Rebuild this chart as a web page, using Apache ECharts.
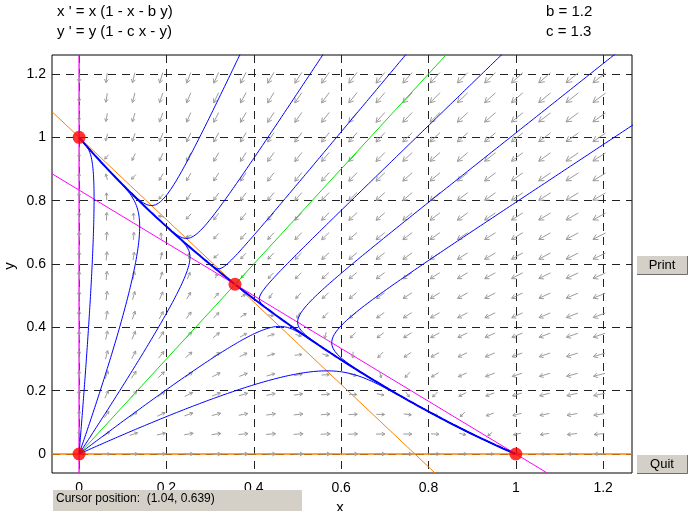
<!DOCTYPE html>
<html><head><meta charset="utf-8">
<script src="https://cdn.jsdelivr.net/npm/echarts@6/dist/echarts.min.js"></script>
<style>html,body{margin:0;padding:0;background:#fff}#c{width:688px;height:511px}</style>
</head><body><div id="c"></div>
<script>
// ---- data ----
const B_PARAM = 1.2;
const C_PARAM = 1.3;
const X_TICKS = [0, 0.2, 0.4, 0.6, 0.8, 1, 1.2];
const Y_TICKS = [0, 0.2, 0.4, 0.6, 0.8, 1, 1.2];
const ARROW_X = [0, 0.063, 0.125, 0.188, 0.251, 0.314, 0.376, 0.439, 0.502, 0.564, 0.627, 0.690, 0.752, 0.815, 0.878, 0.941, 1.003, 1.066, 1.129, 1.191];
const ARROW_Y = [0, 0.063, 0.125, 0.188, 0.25, 0.313, 0.375, 0.438, 0.5, 0.563, 0.625, 0.688, 0.75, 0.813, 0.875, 0.938, 1.0, 1.063, 1.125, 1.188];
const EQUILIBRIA = [[0, 0], [0, 1], [1, 0], [0.357, 0.536]];
const ORIGIN_FAN_STARTS = [[0.03, 0.6], [0.11, 0.487], [0.217, 0.487], [0.461, 0.403], [0.392, 0.215]];
const UPPER_STARTS = [[0.347, 1.2], [0.529, 1.2], [0.711, 1.2], [0.922, 1.2], [1.17, 1.2], [1.2, 0.977]];
const SADDLE_EXITS = [[0.355, 0.5375], [0.359, 0.534]];
const SEPARATRIX = [[0, 0], [0.84, 1.26]];
const NULL_X_DIAG = [[-0.062, 0.885], [1.072, -0.06]];
const NULL_X_AXIS = [[0, -0.06], [0, 1.26]];
const NULL_Y_DIAG = [[-0.062, 1.081], [0.815, -0.06]];
const NULL_Y_AXIS = [[-0.062, 0], [1.266, 0]];

// ---- system shown on the chart: x' = x(1-x-by), y' = y(1-cx-y) ----
function field(x, y) { return [x * (1 - x - B_PARAM * y), y * (1 - C_PARAM * x - y)]; }
function rk4(p, h) {
  const k1 = field(p[0], p[1]);
  const k2 = field(p[0] + h / 2 * k1[0], p[1] + h / 2 * k1[1]);
  const k3 = field(p[0] + h / 2 * k2[0], p[1] + h / 2 * k2[1]);
  const k4 = field(p[0] + h * k3[0], p[1] + h * k3[1]);
  return [p[0] + h / 6 * (k1[0] + 2 * k2[0] + 2 * k3[0] + k4[0]),
          p[1] + h / 6 * (k1[1] + 2 * k2[1] + 2 * k3[1] + k4[1])];
}
function integrate(p0, dir) {
  const pts = []; let p = p0.slice();
  for (let i = 0; i < 8000; i++) {
    const v = field(p[0], p[1]); const sp = Math.hypot(v[0], v[1]);
    if (sp < 2e-5) break;
    const h = dir * Math.min(0.05, 0.003 / sp);
    p = rk4(p, h); pts.push(p);
    if (p[0] < -0.2 || p[0] > 1.45 || p[1] < -0.2 || p[1] > 1.45) break;
  }
  return pts;
}
function orbit(p0) { return integrate(p0, -1).reverse().concat([p0], integrate(p0, 1)); }

const arrowPts = [];
ARROW_X.forEach(x => ARROW_Y.forEach(y => arrowPts.push([x, y])));

function lineSeries(data, color, width, z) {
  return { type: 'line', data: data, showSymbol: false, symbol: 'none', silent: true, z: z,
           lineStyle: { color: color, width: width }, animation: false, clip: true };
}

const series = [];
series.push(lineSeries(NULL_X_AXIS, '#ff00ff', 1.3, 2));
series.push(lineSeries(NULL_X_DIAG, '#ff00ff', 1, 2));
series.push(lineSeries(NULL_Y_AXIS, '#ff8000', 1.6, 2));
series.push(lineSeries(NULL_Y_DIAG, '#ff8000', 1, 2));
series.push({
  type: 'custom', coordinateSystem: 'cartesian2d', data: arrowPts, silent: true, z: 3, animation: false,
  renderItem: function (params, api) {
    const x = api.value(0), y = api.value(1);
    const p = api.coord([x, y]);
    const s = api.size([1, 1]);
    const v = field(x, y);
    const dx = v[0] * s[0], dy = -v[1] * s[1];
    const m = Math.hypot(dx, dy);
    if (m < 1e-3) return null;
    const L = Math.min(17, 16 * Math.pow(m / 1090, 0.21));
    const ux = dx / m, uy = dy / m;
    const tail = [p[0] - ux * L / 2, p[1] - uy * L / 2];
    const tip = [p[0] + ux * L / 2, p[1] + uy * L / 2];
    const hl = Math.max(3, 0.4 * L), a = Math.PI / 6;
    const ca = Math.cos(a), sa = Math.sin(a);
    const h1 = [tip[0] - hl * (ux * ca - uy * sa), tip[1] - hl * (uy * ca + ux * sa)];
    const h2 = [tip[0] - hl * (ux * ca + uy * sa), tip[1] - hl * (uy * ca - ux * sa)];
    const st = { stroke: '#9c9c9c', lineWidth: 1, fill: null };
    return { type: 'group', children: [
      { type: 'polyline', shape: { points: [tail, tip] }, style: st },
      { type: 'polyline', shape: { points: [h1, tip, h2] }, style: st }
    ] };
  }
});
series.push(lineSeries(SEPARATRIX, '#00e600', 1, 4));
ORIGIN_FAN_STARTS.forEach(p => series.push(lineSeries(orbit(p), '#0000ff', 1, 4)));
UPPER_STARTS.forEach(p => series.push(lineSeries(orbit(p), '#0000ff', 1, 4)));
SADDLE_EXITS.forEach(p => series.push(lineSeries([p].concat(integrate(p, 1)), '#0000ff', 2, 4)));
series.push({ type: 'scatter', data: EQUILIBRIA, symbolSize: 13, itemStyle: { color: '#ff0000' }, z: 6, silent: true, animation: false });

const FONT = '"Liberation Sans", Arial, sans-serif';
const chart = echarts.init(document.getElementById('c'), null, { renderer: 'canvas' });
chart.setOption({
  backgroundColor: '#ffffff',
  animation: false,
  grid: { left: 52, right: 56, top: 55, bottom: 38, show: true, borderColor: '#000', borderWidth: 1, backgroundColor: '#fff' },
  xAxis: {
    type: 'value', min: -0.062, max: 1.266,
    axisLine: { show: false, onZero: false },
    axisTick: { show: false, customValues: X_TICKS },
    axisLabel: { customValues: X_TICKS, fontSize: 14, color: '#000', margin: 8, fontFamily: FONT },
    splitLine: { show: true, lineStyle: { color: '#222', type: [8, 6], width: 1 } }
  },
  yAxis: {
    type: 'value', min: -0.06, max: 1.26,
    axisLine: { show: false, onZero: false },
    axisTick: { show: false, customValues: Y_TICKS },
    axisLabel: { customValues: Y_TICKS, fontSize: 14, color: '#000', margin: 6, fontFamily: FONT },
    splitLine: { show: true, lineStyle: { color: '#222', type: [8, 6], width: 1 } }
  },
  series: series,
  graphic: [
    { type: 'text', left: 57, top: 4, z: 100, style: { text: "x ' = x (1 - x - b y)", font: '15px ' + FONT, fill: '#000' } },
    { type: 'text', left: 57, top: 24, z: 100, style: { text: "y ' = y (1 - c x - y)", font: '15px ' + FONT, fill: '#000' } },
    { type: 'text', left: 546, top: 4, z: 100, style: { text: 'b = 1.2', font: '15px ' + FONT, fill: '#000' } },
    { type: 'text', left: 546, top: 24, z: 100, style: { text: 'c = 1.3', font: '15px ' + FONT, fill: '#000' } },
    { type: 'text', x: 10, y: 266, rotation: Math.PI / 2, z: 100, style: { text: 'y', font: '15px ' + FONT, fill: '#000', textAlign: 'center', textVerticalAlign: 'middle' } },
    { type: 'text', x: 340, y: 500, z: 100, style: { text: 'x', font: '15px ' + FONT, fill: '#000', textAlign: 'center', textVerticalAlign: 'top' } },
    { type: 'rect', shape: { x: 53, y: 490, width: 249, height: 21 }, z: 101, style: { fill: '#d4d0c8' } },
    { type: 'text', x: 56, y: 499, z: 102, style: { text: 'Cursor position:  (1.04, 0.639)', font: '12px ' + FONT, fill: '#000', textVerticalAlign: 'middle' } },
    { type: 'rect', shape: { x: 637, y: 256, width: 51, height: 19 }, z: 101, style: { fill: '#d4d0c8' } },
    { type: 'polyline', shape: { points: [[637, 274.5], [687.5, 274.5], [687.5, 256]] }, z: 101, style: { stroke: '#6e6e6e', lineWidth: 1, fill: null } },
    { type: 'text', x: 662, y: 265.5, z: 102, style: { text: 'Print', font: '13px ' + FONT, fill: '#000', textAlign: 'center', textVerticalAlign: 'middle' } },
    { type: 'rect', shape: { x: 637, y: 455, width: 51, height: 19 }, z: 101, style: { fill: '#d4d0c8' } },
    { type: 'polyline', shape: { points: [[637, 473.5], [687.5, 473.5], [687.5, 455]] }, z: 101, style: { stroke: '#6e6e6e', lineWidth: 1, fill: null } },
    { type: 'text', x: 662, y: 464.5, z: 102, style: { text: 'Quit', font: '13px ' + FONT, fill: '#000', textAlign: 'center', textVerticalAlign: 'middle' } }
  ]
});
</script></body></html>
